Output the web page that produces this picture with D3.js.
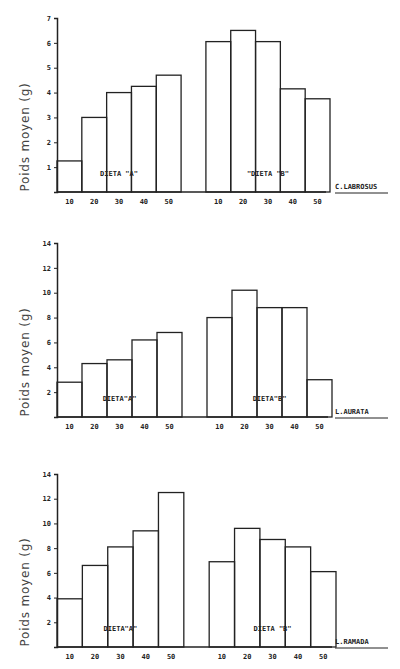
<!DOCTYPE html>
<html><head><meta charset="utf-8">
<script src="https://cdn.jsdelivr.net/npm/d3@7"></script>
<style>body{margin:0;background:#fff}</style>
</head><body>
<svg id="chart" width="400" height="669"></svg>
<script>
// data
var sizes = ["10", "20", "30", "40", "50"];
var species = ["C.LABROSUS", "L.AURATA", "L.RAMADA"];
var dietA = [[1.25, 3.0, 4.0, 4.25, 4.7], [2.8, 4.3, 4.6, 6.2, 6.8], [3.9, 6.6, 8.1, 9.4, 12.5]];
var dietB = [[6.05, 6.5, 6.05, 4.15, 3.75], [8.0, 10.2, 8.8, 8.8, 3.0], [6.9, 9.6, 8.7, 8.1, 6.1]];
var yMaxes = [7, 14, 14];
var yTicks = [[1, 2, 3, 4, 5, 6, 7], [2, 4, 6, 8, 10, 12, 14], [2, 4, 6, 8, 10, 12, 14]];

var panels = [{top: 18, base: 192, right: 330}, {top: 243, base: 417, right: 332}, {top: 474, base: 647, right: 336}];
var left = 57;
var ink = "#222";
var mono = "'DejaVu Sans Mono', monospace";

var svg = d3.select('#chart');

panels.forEach(function(p, k) {
  var g = svg.append('g');
  var slots = d3.range(11);
  var x = d3.scaleBand().domain(slots).range([left, p.right]).padding(0);
  var y = d3.scaleLinear().domain([0, yMaxes[k]]).range([p.base, p.top]);

  var bars = [];
  sizes.forEach(function(s, i) { bars.push({slot: i, v: dietA[k][i], label: s}); });
  sizes.forEach(function(s, i) { bars.push({slot: i + 6, v: dietB[k][i], label: s}); });

  g.selectAll('rect').data(bars).enter().append('rect')
    .attr('x', function(d) { return x(d.slot); })
    .attr('y', function(d) { return y(d.v); })
    .attr('width', x.bandwidth())
    .attr('height', function(d) { return p.base - y(d.v); })
    .attr('fill', 'none').attr('stroke', ink).attr('stroke-width', 1.3);

  // axes
  var yAxis = d3.axisLeft(y).tickValues(yTicks[k]).tickSize(3).tickFormat(d3.format('d'));
  var ya = g.append('g').attr('transform', 'translate(' + left + ',0)').call(yAxis);
  ya.select('.domain').attr('stroke', ink).attr('stroke-width', 1.5);
  ya.selectAll('line').attr('stroke', ink);
  ya.selectAll('text').attr('font-family', mono).attr('font-size', 7).attr('font-weight', 'bold').attr('fill', ink);

  g.append('line').attr('x1', left).attr('x2', p.right - 4).attr('y1', p.base).attr('y2', p.base)
    .attr('stroke', ink).attr('stroke-width', 1.5);

  g.selectAll('.xl').data(bars).enter().append('text')
    .attr('x', function(d) { return x(d.slot) + x.bandwidth() / 2; })
    .attr('y', p.base + 12)
    .attr('text-anchor', 'middle')
    .attr('font-family', mono).attr('font-size', 7).attr('font-weight', 'bold').attr('fill', ink)
    .text(function(d) { return d.label; });

  g.append('text').attr('x', x(2) + x.bandwidth() / 2).attr('y', p.base - 16)
    .attr('text-anchor', 'middle').attr('font-family', mono).attr('font-size', 7).attr('font-weight', 'bold').attr('fill', ink)
    .text(k == 0 ? 'DIETA "A"' : 'DIETA"A"');
  g.append('text').attr('x', x(8) + x.bandwidth() / 2).attr('y', p.base - 16)
    .attr('text-anchor', 'middle').attr('font-family', mono).attr('font-size', 7).attr('font-weight', 'bold').attr('fill', ink)
    .text(k == 0 ? '"DIETA "B"' : (k == 1 ? 'DIETA"B"' : 'DIETA "B"'));

  g.append('text').attr('x', 335).attr('y', p.base - 3)
    .attr('font-family', mono).attr('font-size', 7).attr('font-weight', 'bold').attr('fill', ink)
    .text(species[k]);
  g.append('line').attr('x1', 335).attr('x2', 388).attr('y1', p.base + 1).attr('y2', p.base + 1)
    .attr('stroke', ink).attr('stroke-width', 1);

  g.append('text')
    .attr('transform', 'translate(29,' + (p.base - 55) + ') rotate(-90)')
    .attr('text-anchor', 'middle').attr('font-family', "'DejaVu Sans', sans-serif").attr('font-size', 12)
    .attr('letter-spacing', 0.8).attr('fill', '#444')
    .text('Poids moyen (g)');
});
</script>
</body></html>
